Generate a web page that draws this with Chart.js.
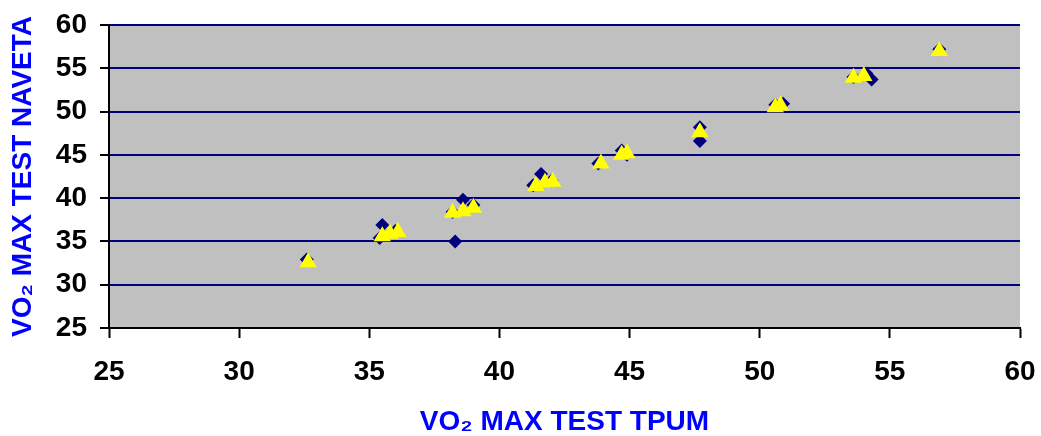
<!DOCTYPE html>
<html lang="es">
<head>
    <meta charset="UTF-8">
    <title>VO2 MAX TPUM vs NAVETA</title>
    <style>
        body {
            margin: 0;
            padding: 0;
            background-color: #ffffff;
        }
        #wrap {
            width: 1041px;
            height: 436px;
        }
    </style>
    <script src="https://cdn.jsdelivr.net/npm/chart.js"></script>
</head>
<body>
    <div id="wrap"><canvas id="vo2Chart"></canvas></div>

    <script>
        // Serie 1 (rombos azules)
        var rombosX = [32.6, 35.5, 36.0, 35.4, 38.3, 38.2, 38.6, 39.0, 41.3, 41.6, 42.0, 43.8, 44.7, 44.9, 47.7, 47.7, 50.6, 50.9, 53.6, 54.1, 54.3, 56.9];
        var rombosY = [32.9, 36.9, 36.2, 35.4, 35.0, 38.4, 39.8, 39.2, 41.5, 42.8, 42.0, 44.0, 45.5, 45.0, 48.2, 46.6, 50.8, 50.9, 54.0, 54.4, 53.7, 57.2];

        // Serie 2 (triángulos amarillos)
        var triangulosX = [32.65, 35.5, 35.8, 36.1, 38.2, 38.6, 39.0, 41.4, 41.75, 42.05, 43.9, 44.7, 44.9, 47.7, 50.6, 50.8, 53.6, 54.0, 56.9];
        var triangulosY = [32.6, 35.6, 35.9, 36.1, 38.3, 38.5, 38.9, 41.4, 41.8, 41.9, 44.0, 45.0, 45.2, 47.6, 50.5, 50.7, 53.9, 54.1, 57.0];

        var ticksEje = [25, 30, 35, 40, 45, 50, 55, 60];

        function puntos(xs, ys) {
            return xs.map(function (x, i) { return { x: x, y: ys[i] }; });
        }

        // sin relleno extra alrededor de los ejes
        function sinPadding(axis) {
            axis.paddingTop = 0;
            axis.paddingBottom = 0;
            axis.paddingLeft = 0;
            axis.paddingRight = 0;
        }

        // fondo gris del área del gráfico
        var fondoGris = {
            id: 'fondoGris',
            beforeDraw: function (chart) {
                var a = chart.chartArea;
                var ctx = chart.ctx;
                ctx.save();
                ctx.fillStyle = '#c0c0c0';
                ctx.fillRect(a.left, a.top, a.right - a.left, a.bottom - a.top);
                ctx.restore();
            }
        };

        var fuenteTicks = { family: 'Arial, "Liberation Sans", sans-serif', size: 28, weight: 'bold' };
        var fuenteTitulo = { family: 'Arial, "Liberation Sans", sans-serif', size: 28, weight: 'bold', lineHeight: 1 };

        var ctxVo2 = document.getElementById('vo2Chart').getContext('2d');
        var vo2Chart = new Chart(ctxVo2, {
            type: 'scatter',
            data: {
                datasets: [{
                    label: 'Triángulos',
                    data: puntos(triangulosX, triangulosY),
                    pointStyle: 'triangle',
                    pointRadius: 10,
                    pointBackgroundColor: '#ffff00',
                    pointBorderWidth: 0,
                    pointBorderColor: '#ffff00',
                    order: 0
                }, {
                    label: 'Rombos',
                    data: puntos(rombosX, rombosY),
                    pointStyle: 'rectRot',
                    pointRadius: 7,
                    pointBackgroundColor: '#000080',
                    pointBorderWidth: 0,
                    pointBorderColor: '#000080',
                    order: 1
                }]
            },
            options: {
                responsive: true,
                maintainAspectRatio: false,
                animation: false,
                layout: {
                    padding: { top: 25, right: 21, left: 0, bottom: 0 }
                },
                plugins: {
                    legend: { display: false },
                    tooltip: { enabled: false }
                },
                scales: {
                    x: {
                        type: 'linear',
                        min: 25,
                        max: 60,
                        afterBuildTicks: function (axis) {
                            axis.ticks = ticksEje.map(function (v) { return { value: v }; });
                        },
                        afterFit: function (axis) { axis.height = 108; sinPadding(axis); },
                        border: { color: '#000000', width: 2 },
                        grid: {
                            drawOnChartArea: false,
                            drawTicks: true,
                            tickLength: 10,
                            tickColor: '#000000',
                            tickWidth: 2
                        },
                        ticks: {
                            color: '#000000',
                            font: fuenteTicks,
                            padding: 17,
                            maxRotation: 0
                        },
                        title: {
                            display: true,
                            text: 'VO₂ MAX TEST TPUM',
                            color: '#0000ff',
                            font: fuenteTitulo,
                            padding: { top: 0, bottom: 0 }
                        }
                    },
                    y: {
                        type: 'linear',
                        min: 25,
                        max: 60,
                        afterBuildTicks: function (axis) {
                            axis.ticks = ticksEje.map(function (v) { return { value: v }; });
                        },
                        afterFit: function (axis) { axis.width = 109; sinPadding(axis); },
                        border: { color: '#000000', width: 2 },
                        grid: {
                            color: function (c) { return c.tick && c.tick.value === 25 ? '#000000' : '#000080'; },
                            lineWidth: 2,
                            drawTicks: true,
                            tickLength: 9,
                            tickColor: '#000000',
                            tickWidth: 2
                        },
                        ticks: {
                            color: '#000000',
                            font: fuenteTicks,
                            padding: 13
                        },
                        title: {
                            display: true,
                            text: 'VO₂ MAX TEST NAVETA',
                            color: '#0000ff',
                            font: fuenteTitulo,
                            padding: { top: 9, bottom: 0 }
                        }
                    }
                }
            },
            plugins: [fondoGris]
        });
    </script>
</body>
</html>
